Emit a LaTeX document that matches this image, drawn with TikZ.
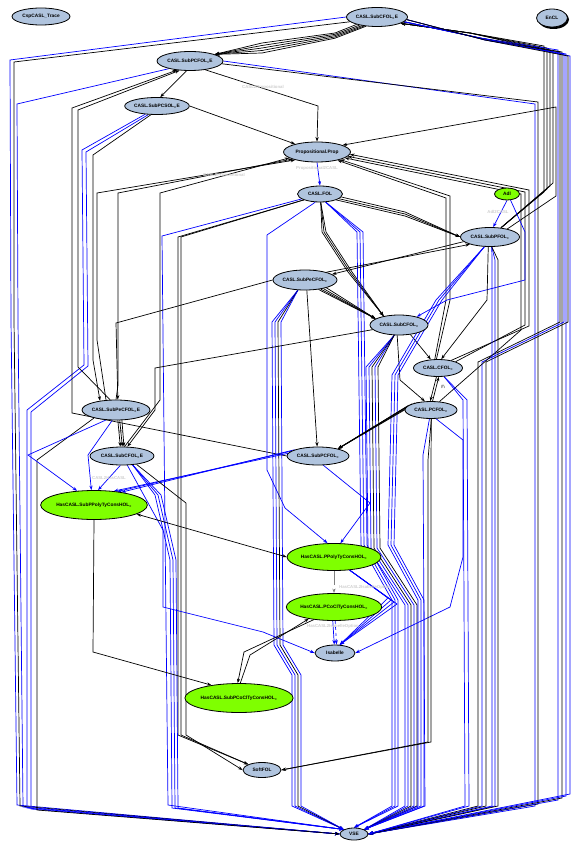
\documentclass[tikz,border=0pt]{standalone}
\usepackage{fontspec}
\setmainfont{Liberation Sans}
\usetikzlibrary{shapes.geometric,arrows.meta,backgrounds}
\definecolor{nodeblue}{HTML}{B0C4DE}
\definecolor{nodegreen}{HTML}{7FFF00}
\definecolor{lblgray}{HTML}{CFCFCF}
\newcommand{\myeq}{\textsubscript{=}}
\begin{document}
\begin{tikzpicture}[x=1pt,y=-1pt,
  nb/.style={ellipse,draw,line width=0.8pt,fill=nodeblue,inner sep=0pt,font=\fontsize{4.8}{5}\selectfont\bfseries},
  ng/.style={nb,fill=nodegreen},
  edg/.style={line width=0.7pt,-{Stealth[length=4.5pt,width=3.2pt]}},
  bk/.style={edg,draw=black},
  bu/.style={edg,draw=blue},
  both/.style={line width=0.7pt,draw=black,{Stealth[length=4.5pt,width=3.2pt]}-{Stealth[length=4.5pt,width=3.2pt]}},
  lb/.style={text=lblgray,font=\fontsize{4.3}{5}\selectfont\bfseries,inner sep=0pt},
  warn/.style={font=\fontsize{4.5}{5}\selectfont,inner sep=0pt}]
\useasboundingbox (0,0) rectangle (573,842);
% ---------------- nodes
\node[nb,minimum width=58,minimum height=17] (trace) at (41,16.5) {CspCASL\_Trace};
\node[nb,minimum width=61,minimum height=19] (subcfole) at (377,17) {CASL.SubCFOL\myeq E};
\fill[black] (553.5,19.5) ellipse (15.5 and 9.5);
\node[nb,minimum width=31,minimum height=18] (encl) at (552,18) {EnCL};
\node[nb,minimum width=66,minimum height=19] (subpcfole) at (190,61) {CASL.SubPCFOL\myeq E};
\node[nb,minimum width=57,minimum height=17] (subpcsole) at (157,106) {CASL.SubPCSOL\myeq E};
\node[nb,minimum width=67,minimum height=20] (prop) at (317,152) {Propositional.Prop};
\node[nb,minimum width=45,minimum height=16] (fol) at (320,194) {CASL.FOL};
\node[ng,minimum width=25,minimum height=12] (adl) at (507,194) {Adl};
\node[nb,minimum width=59,minimum height=19] (subpfol) at (490,237) {CASL.SubPFOL\myeq};
\node[nb,minimum width=64,minimum height=20] (subpecfol) at (305,280) {CASL.SubPeCFOL\myeq};
\node[nb,minimum width=58,minimum height=20] (subcfol) at (399,325) {CASL.SubCFOL\myeq};
\node[nb,minimum width=49,minimum height=17] (cfol) at (438,368) {CASL.CFOL\myeq};
\node[nb,minimum width=52,minimum height=17] (pcfol) at (431,410) {CASL.PCFOL\myeq};
\node[nb,minimum width=68,minimum height=20] (subpecfole) at (116,410) {CASL.SubPeCFOL\myeq E};
\node[nb,minimum width=64,minimum height=18] (subcfoleB) at (122,456) {CASL.SubCFOL\myeq E};
\node[nb,minimum width=62,minimum height=18] (subpcfol) at (318,456) {CASL.SubPCFOL\myeq};
\node[ng,minimum width=103,minimum height=29] (hsubppoly) at (94,505) {HasCASL.SubPPolyTyConsHOL\myeq};
\node[ng,minimum width=92,minimum height=27] (hppoly) at (334,557) {HasCASL.PPolyTyConsHOL\myeq};
\node[ng,minimum width=92,minimum height=27] (hpcocl) at (334,607) {HasCASL.PCoClTyConsHOL\myeq};
\node[nb,minimum width=40,minimum height=16] (isabelle) at (335,653) {Isabelle};
\node[ng,minimum width=102,minimum height=29] (hsubpcocl) at (239,698) {HasCASL.SubPCoClTyConsHOL\myeq};
\node[nb,minimum width=38,minimum height=15] (softfol) at (262,770) {SoftFOL};
\node[nb,minimum width=28,minimum height=12] (vse) at (354,834) {VSE};
% ---------------- edges
\begin{pgfonlayer}{background}
\fill[white] (0,0) rectangle (573,842);
% top fan
\foreach \a/\k in {200/0,205/1,210/2,215/3,220/4}
  \draw[bk] (subcfole.\a) -- (335,33+1.3*\k) -- (262,43+2.5*\k) -- (subpcfole.15);
% left column to VSE
\draw[bu] (subcfole.west) -- (10,60) -- (11,320) -- (17,805) -- (vse.west);
\draw[bk] (subcfole.190) -- (14,62) -- (14,320) -- (20,806) -- (vse.west);
\draw[bu] (subpcfole.200) -- (17,104) -- (18,320) -- (23,807) -- (vse.west);
\draw[bu] (subpcsole.215) -- (82,150) -- (84,365) -- (27,410) -- (27,808) -- (vse.west);
\draw[bu] (subpcsole.225) -- (86,152) -- (88,366) -- (31,412) -- (31,809) -- (vse.west);
\draw[bk] (subpecfole.200) -- (37,460) -- (37,810) -- (vse.west);
\draw[bk] (subpcsole.235) -- (93,155) -- (93,360) -- (subpecfole.150);
\draw[bk] (subpcfol.west) -- (72,413) -- (72,108) -- (subpcfole.215);
\draw[bk] (subpecfole.120) -- (78,367) -- (78,110) -- (subpcfole.222);
% right of subpcfole
\draw[bu] (subpcfole.east) -- (535,104) -- (535,806) -- (vse.east);
\draw[bk] (subpcfole.-5) -- (538,102) -- (538,804) -- (vse.east);
\draw[bk] (subpcfole.-30) -- (318,106) -- (prop.north);
\draw[bk] (subpcfole.250) -- (subpcsole.70);
\draw[bk] (subpcsole.east) -- (prop.160);
% right outer bundle
\foreach \k in {0,...,3}
  \draw[bk] (subpfol.40) -- (544+3*\k,192-3*\k) -- (544+3*\k,46+2*\k) -- (470,33) -- (subcfole.-15);
\foreach \k/\col in {0/blue,1/black,2/blue,3/blue}
  \draw[edg,draw=\col] (subcfole.-10) -- (480,38) -- (558+4*\k,50+2*\k) -- (558+4*\k,800-2*\k) -- (vse.east);
\foreach \k/\col in {0/black,1/blue,2/black}
  \draw[edg,draw=\col] (subcfole.-5) -- (485,40) -- (560+4*\k,52+2*\k) -- (560+4*\k,322) -- (478+4*\k,362) -- (478+4*\k,806) -- (vse.east);
\draw[bk] (subpfol.25) -- (556,196) -- (556,107) -- (prop.15);
% into prop from the right
\draw[bk] (cfol.north east) -- (525,325) -- (525,192) -- (prop.-8);
\draw[bk] (cfol.30) -- (529,326) -- (529,190) -- (prop.-4);
\draw[bk] (pcfol.45) -- (521,330) -- (521,194) -- (prop.-12);
\draw[bk] (cfol.100) -- (450,300) -- (450,196) -- (prop.-18);
\draw[bk] (cfol.110) -- (446,300) -- (446,198) -- (prop.-22);
% into prop from the left
\draw[bk] (subpecfole.135) -- (97,340) -- (97,193) -- (prop.200);
\draw[bk] (subpecfole.north) -- (118,385) -- (118,193) -- (prop.196);
\draw[bk] (subcfoleB.75) -- (160,400) -- (160,193) -- (prop.192);
% fol
\draw[bu] (prop.south) -- (fol.north);
\foreach \a/\k in {-8/0,-14/1,-20/2}
  \draw[bk] (fol.\a) -- (405,212+2*\k) -- (subpfol.west);
\foreach \k in {0,1,2}
  \draw[bk] (fol.-85) -- (322+2*\k,232) -- (348+2*\k,272) -- (subcfol.150);
\foreach \k in {0,1,2}
  \draw[bu] (fol.-55) -- (357+3*\k,232) -- (361+3*\k,545) -- (392+3*\k,600) -- (392+3*\k,806) -- (vse.north);
\foreach \k in {0,1}
  \draw[bk] (fol.200) -- (178+3*\k,237) -- (178+3*\k,735) -- (softfol.north west);
\draw[bu] (fol.195) -- (162,236) -- (165,530) -- (168,805) -- (vse.north west);
\draw[bu] (fol.240) -- (267,235) -- (267,470) -- (285,508) -- (hppoly.115);
% subpecfol
\draw[bk] (subpecfol.20) -- (subpfol.200);
\draw[bk] (subpfol.190) -- (subpecfol.12);
\draw[bk] (subpecfol.west) -- (116,323) -- (subpecfole.80);
\foreach \a in {-20,-25,-30,-35}
  \draw[bk] (subpecfol.\a) -- (subcfol.165);
\foreach \k/\col in {0/blue,1/blue,2/black,3/blue}
  \draw[edg,draw=\col] (subpecfol.235) -- (272+3*\k,322) -- (274+3*\k,645) -- (292+3*\k,675) -- (292+3*\k,806) -- (vse.north west);
\draw[bk] (subpecfol.-80) -- (subpcfol.95);
% subcfol
\draw[bk] (subcfol.-40) -- (cfol.130);
\draw[bk] (subcfol.-100) -- (400,380) -- (pcfol.125);
\draw[bk] (subcfol.190) -- (155,368) -- (155,410) -- (subcfoleB.60);
\foreach \k/\col in {0/blue,1/blue,2/black,3/blue,4/black}
  \draw[edg,draw=\col] (subcfol.-115) -- (366+3*\k,367) -- (368+3*\k,548) -- (405+3*\k,605) -- (405+3*\k,806) -- (vse.north east);
% subpfol / adl
\draw[bu] (adl.south) -- (subpfol.72);
\draw[bu] (adl.-60) -- (525,232) -- (525,280) -- (447,300) -- (subcfol.25);
\foreach \k in {0,1,2}
  \draw[bu] (subpfol.-120) -- (436+3*\k,300) -- (392+3*\k,375) -- (388+3*\k,545) -- (418+3*\k,600) -- (418+3*\k,806) -- (vse.north east);
\foreach \k/\col in {0/blue,1/blue,2/black}
  \draw[edg,draw=\col] (subpfol.-80) -- (492+3*\k,260) -- (492+3*\k,806) -- (vse.east);
\draw[bk] (subpfol.-100) -- (487,300) -- (cfol.70);
% cfol / pcfol
\draw[bk] (cfol.-100) -- (pcfol.95);
\draw[bk] (pcfol.80) -- (cfol.-85);
\node[warn] at (443,387) {/!\textbackslash};
\foreach \a in {150,156,162,168,174}
  \draw[bk] (pcfol.\a) -- (subpcfol.20);
\foreach \k in {0,1}
  \draw[bu] (cfol.-55) -- (463+4*\k,400) -- (465+4*\k,806) -- (vse.east);
\draw[bu] (pcfol.-100) -- (423,455) -- (425,806) -- (vse.north east);
\draw[bu] (pcfol.-60) -- (463,440) -- (463,557) -- (450,607) -- (isabelle.east);
\foreach \k in {0,1}
  \draw[bk] (pcfol.-88) -- (428+3*\k,460) -- (428+3*\k,742) -- (softfol.east);
% subpcfol
\foreach \a/\b in {165/25,170/30,175/35}
  \draw[bu] (subpcfol.\a) -- (hsubppoly.\b);
\draw[bu] (subpcfol.-60) -- (370,503) -- (hppoly.65);
% subpecfole / subcfoleB
\foreach \a/\b in {-80/100,-70/88,-60/78}
  \draw[bk] (subpecfole.\a) -- (subcfoleB.\b);
\node[warn] at (121,432) {/!\textbackslash};
\draw[bu] (subpecfole.-110) -- (88,455) -- (hsubppoly.100);
\draw[bu] (subpecfole.-135) -- (28,455) -- (hsubppoly.140);
\draw[bu] (subcfoleB.-100) -- (hsubppoly.75);
\foreach \k in {0,1,2}
  \draw[bu] (subcfoleB.-40) -- (155+3*\k,495) -- (170+3*\k,560) -- (172+3*\k,808) -- (vse.north west);
\draw[bk] (subcfoleB.-30) -- (186,503) -- (186,735) -- (softfol.west);
\draw[bu] (subcfoleB.-60) -- (163,530) -- (163,607) -- (263,632) -- (isabelle.west);
% hasCASL
\draw[both] (hsubppoly.-12) -- (hppoly.west);
\draw[bk] (hsubppoly.south) -- (93,652) -- (hsubpcocl.155);
\draw[edg,draw=gray,dash pattern=on 14pt off 4pt on 1.5pt off 3pt] (hppoly.south) -- (hpcocl.north);
\foreach \k in {0,...,3}
  \draw[bu] (hppoly.-40) -- (388+3*\k,598+2*\k) -- (isabelle.60);
\draw[bu] (hpcocl.-95) -- (isabelle.95);
\draw[bu,dashed] (hpcocl.-85) -- (isabelle.80);
\draw[bk] (hsubpcocl.85) -- (250,655) -- (hpcocl.205);
\draw[bk] (hpcocl.212) -- (244,652) -- (hsubpcocl.95);
% labels
\node[lb] at (317,168) {Propositional2CASL};
\node[lb] at (224,175) {CASL2Propositional};
\node[lb] at (263,87) {CASL2Propositional};
\node[lb] at (498,212) {Adl2CASL};
\node[lb] at (365,587) {HasCASL2IsabelleOption};
\node[lb] at (333,626) {HasCASL2IsabelleOption};
\node[lb] at (109,478) {CASL2HasCASL};
\end{pgfonlayer}
\end{tikzpicture}
\end{document}
